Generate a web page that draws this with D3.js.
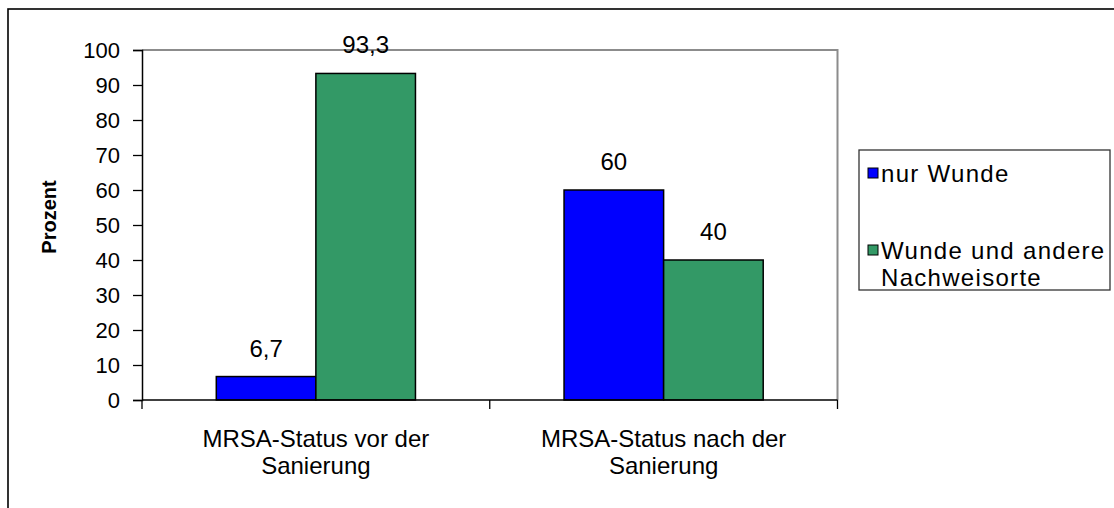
<!DOCTYPE html>
<html>
<head>
<meta charset="utf-8">
<script src="https://cdn.jsdelivr.net/npm/d3@7"></script>
<style>
  html, body { margin: 0; padding: 0; background: #fff; }
  svg { display: block; font-family: "Liberation Sans", Arial, sans-serif; }
</style>
</head>
<body>
<div id="chart"></div>
<script>
const categories = [['MRSA-Status vor der', 'Sanierung'], ['MRSA-Status nach der', 'Sanierung']]
const series = ['nur Wunde', 'Wunde und andere Nachweisorte']
const legendLines = [['nur Wunde'], ['Wunde und andere', 'Nachweisorte']]
const nurWunde = [6.7, 60]
const wundeAndere = [93.3, 40]
const valueLabels = [['6,7', '93,3'], ['60', '40']]
const yTicks = [0, 10, 20, 30, 40, 50, 60, 70, 80, 90, 100]
const colors = ['#0000ff', '#339966']

const W = 1114, H = 508
const plot = { left: 142, right: 837.5, top: 50, bottom: 400 }

let svg = d3.select('#chart').append('svg')
  .attr('width', W).attr('height', H)

// outer frame (runs off the right and bottom edge)
svg.append('rect')
  .attr('x', 8).attr('y', 9)
  .attr('width', 1300).attr('height', 700)
  .attr('fill', 'none').attr('stroke', '#000').attr('stroke-width', 1.6)

let y = d3.scaleLinear().domain([0, 100]).range([plot.bottom, plot.top])
let x0 = d3.scaleBand().domain(d3.range(categories.length)).range([plot.left, plot.right])
let x1 = d3.scaleBand().domain(d3.range(series.length)).range([0, x0.bandwidth()])
  .paddingInner(0).paddingOuter(0.746)

// plot area border (grey top / right)
svg.append('path')
  .attr('d', `M${plot.left},${plot.top}H${plot.right}V${plot.bottom}`)
  .attr('fill', 'none').attr('stroke', '#8c8c8c').attr('stroke-width', 2)

// bars
let rows = categories.map((c, i) => [nurWunde[i], wundeAndere[i]])
let groups = svg.append('g').selectAll('g')
  .data(rows).enter().append('g')
  .attr('transform', (d, i) => `translate(${x0(i)},0)`)

groups.selectAll('rect')
  .data(d => d).enter().append('rect')
  .attr('x', (d, j) => x1(j))
  .attr('y', d => y(d))
  .attr('width', x1.bandwidth())
  .attr('height', d => y(0) - y(d))
  .attr('fill', (d, j) => colors[j])
  .attr('stroke', '#000').attr('stroke-width', 1.5)

groups.selectAll('text')
  .data((d, i) => d.map((v, j) => ({ v, j, label: valueLabels[i][j] })))
  .enter().append('text')
  .attr('x', d => x1(d.j) + x1.bandwidth() / 2)
  .attr('y', d => y(d.v) - 20)
  .attr('text-anchor', 'middle')
  .attr('font-size', 24)
  .text(d => d.label)

// y axis
let yAxis = svg.append('g')
  .attr('transform', `translate(${plot.left},0)`)
  .call(d3.axisLeft(y).tickValues(yTicks).tickSize(9).tickPadding(13).tickFormat(d3.format('d')))
yAxis.select('.domain').attr('stroke', '#000').attr('stroke-width', 1.5)
yAxis.selectAll('.tick line').attr('stroke', '#000').attr('stroke-width', 1.3)
yAxis.selectAll('.tick text').attr('font-size', 22).attr('fill', '#000')
  .attr('font-family', '"Liberation Sans", Arial, sans-serif')

// x axis
let xTickPos = d3.range(categories.length + 1).map(i => plot.left + i * x0.step())
svg.append('line')
  .attr('x1', plot.left).attr('x2', plot.right)
  .attr('y1', plot.bottom).attr('y2', plot.bottom)
  .attr('stroke', '#000').attr('stroke-width', 1.5)
svg.append('g').selectAll('line')
  .data(xTickPos).enter().append('line')
  .attr('x1', d => d).attr('x2', d => d)
  .attr('y1', plot.bottom).attr('y2', plot.bottom + 9)
  .attr('stroke', '#000').attr('stroke-width', 1.3)

svg.append('g').selectAll('text')
  .data(categories).enter().append('text')
  .attr('x', (d, i) => x0(i) + x0.bandwidth() / 2)
  .attr('y', 447)
  .attr('text-anchor', 'middle')
  .attr('font-size', 24)
  .each(function(d) {
    d3.select(this).selectAll('tspan')
      .data(d).enter().append('tspan')
      .attr('x', d3.select(this).attr('x'))
      .attr('dy', (t, k) => k === 0 ? 0 : 27)
      .text(t => t)
  })

// y title
svg.append('text')
  .attr('transform', 'translate(56,217) rotate(-90)')
  .attr('text-anchor', 'middle')
  .attr('font-size', 20).attr('font-weight', 'bold')
  .text('Prozent')

// legend
let legend = svg.append('g')
legend.append('rect')
  .attr('x', 859).attr('y', 150).attr('width', 251).attr('height', 140)
  .attr('fill', '#fff').attr('stroke', '#333').attr('stroke-width', 1.3)

let items = legend.selectAll('g.item')
  .data(series).enter().append('g').attr('class', 'item')
  .attr('transform', (d, i) => `translate(868,${168 + i * 77})`)
items.append('rect')
  .attr('width', 10).attr('height', 10)
  .attr('fill', (d, i) => colors[i])
  .attr('stroke', '#000').attr('stroke-width', 1)
items.append('text')
  .attr('x', 13).attr('y', 14)
  .attr('font-size', 24).attr('letter-spacing', 1.3)
  .each(function(d, i) {
    d3.select(this).selectAll('tspan')
      .data(legendLines[i]).enter().append('tspan')
      .attr('x', 13)
      .attr('dy', (t, k) => k === 0 ? 0 : 27)
      .text(t => t)
  })
</script>
</body>
</html>
